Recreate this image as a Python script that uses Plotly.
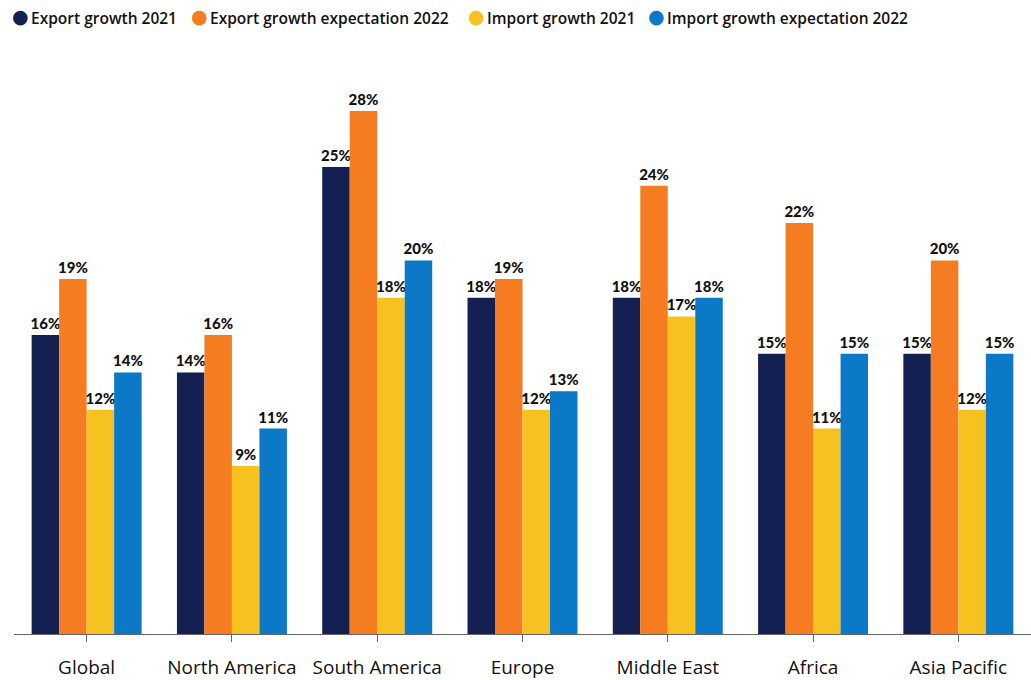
import plotly.graph_objects as go

categories = ["Global", "North America", "South America", "Europe", "Middle East", "Africa", "Asia Pacific"]
series_names = ["Export growth 2021", "Export growth expectation 2022", "Import growth 2021", "Import growth expectation 2022"]
export_2021 = [16, 14, 25, 18, 18, 15, 15]
export_exp_2022 = [19, 16, 28, 19, 24, 22, 20]
import_2021 = [12, 9, 18, 12, 17, 11, 12]
import_exp_2022 = [14, 11, 20, 13, 18, 15, 15]
colors = ["#152052", "#F67C21", "#F7C220", "#0B78C8"]
legend_px = [10, 189, 466, 646]  # left edge of each legend item, in pixels

W, H = 1031, 680
ML, MR, MT, MB = 14, 0, 40, 46
plot_w = W - ML - MR
plot_h = H - MT - MB

fig = go.Figure()
for name, vals, col in zip(series_names, [export_2021, export_exp_2022, import_2021, import_exp_2022], colors):
    fig.add_trace(go.Bar(
        x=categories, y=vals, name=name, marker=dict(color=col, line=dict(width=0)),
        text=[f"{v}%" for v in vals], textposition="outside", constraintext="none",
        textfont=dict(family="Lato", size=15, color="#111111", weight=900),
        cliponaxis=False, showlegend=False,
    ))

for name, col, px in zip(series_names, colors, legend_px):
    fig.add_annotation(
        xref="paper", yref="paper", x=(px - ML) / plot_w, y=1 + (MT - 16) / plot_h,
        xanchor="left", yanchor="middle", showarrow=False, text="●",
        font=dict(family="DejaVu Sans", size=19, color=col),
    )
    fig.add_annotation(
        xref="paper", yref="paper", x=(px + 19 - ML) / plot_w, y=1 + (MT - 18) / plot_h,
        xanchor="left", yanchor="middle", showarrow=False, text=name,
        font=dict(family="Open Sans", size=15.5, color="#111111", weight=600),
    )

fig.update_layout(
    width=W, height=H,
    margin=dict(l=ML, r=MR, t=MT, b=MB),
    plot_bgcolor="white", paper_bgcolor="white",
    barmode="group", bargap=0.243, bargroupgap=0,
    showlegend=False,
    uniformtext=dict(mode=False),
    xaxis=dict(showline=True, linecolor="#666666", linewidth=1, ticks="outside", ticklen=7,
               tickcolor="#666666", tickfont=dict(family="Open Sans", size=19, color="#111111"),
               ticklabelstandoff=9, showgrid=False, range=[-0.5, 6.5]),
    yaxis=dict(visible=False, range=[0, plot_h / 18.68], showgrid=False, zeroline=False),
)

fig.write_html("out.html", config={"displayModeBar": False},
               post_script="document.body.style.margin='0';document.body.style.padding='0';")
